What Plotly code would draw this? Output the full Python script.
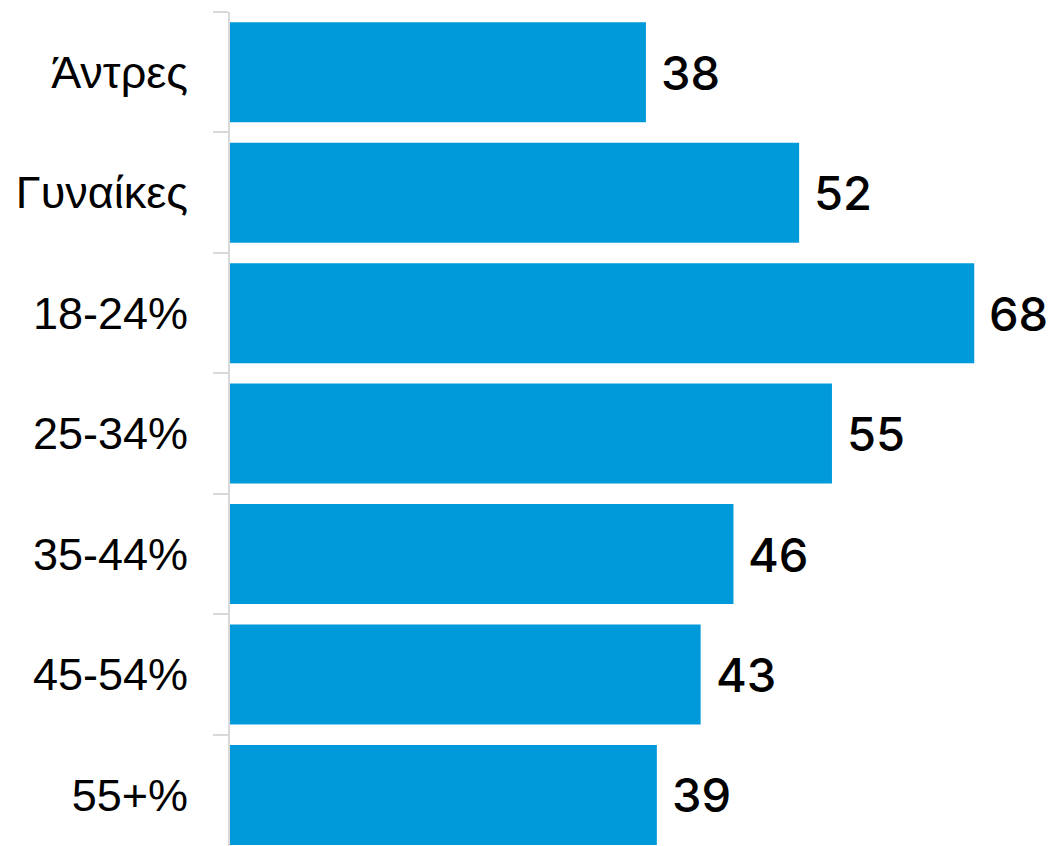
import plotly.graph_objects as go

categories = ["Άντρες", "Γυναίκες", "18-24%", "25-34%", "35-44%", "45-54%", "55+%"]
values = [38, 52, 68, 55, 46, 43, 39]

fig = go.Figure(go.Bar(
    x=values, y=categories, orientation="h",
    marker=dict(color="#0099DA", line=dict(width=0)),
    hoverinfo="skip",
))

for c, v in zip(categories, values):
    fig.add_annotation(x=v, y=c, text=str(v), showarrow=False,
                       xanchor="left", yanchor="middle", xshift=13,
                       font=dict(family="Inter", size=47, weight=500, color="#000000"))

fig.update_layout(
    width=1056, height=846,
    margin=dict(l=222, r=0, t=4, b=0),
    paper_bgcolor="white", plot_bgcolor="white",
    bargap=0.17, showlegend=False,
)
fig.update_xaxes(range=[0, 76.2], visible=False, fixedrange=True)
fig.update_yaxes(
    range=[6.49, -0.5], showgrid=False, zeroline=False, automargin=False,
    showline=True, linecolor="#D9D9D9", linewidth=2,
    ticks="outside", tickson="boundaries", ticklen=15, tickwidth=2, tickcolor="#D9D9D9",
    ticklabelstandoff=31,
    tickfont=dict(family="Liberation Sans", size=45, color="#000000"),
)

fig.write_html("out.html")
